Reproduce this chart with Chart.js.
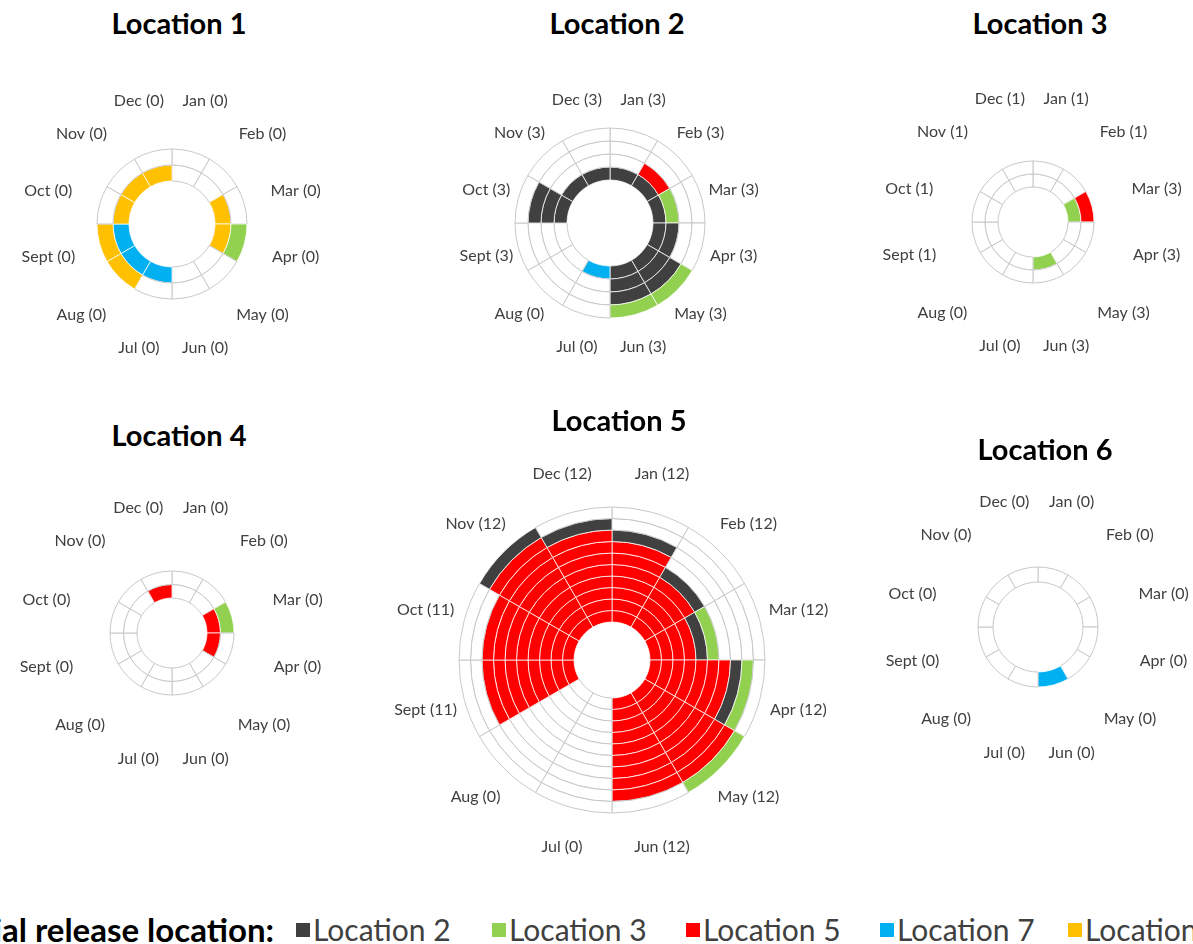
<!DOCTYPE html>
<html>
<head>
<meta charset="utf-8">
<script src="https://cdn.jsdelivr.net/npm/chart.js@4.4.1/dist/chart.umd.min.js"></script>
<style>
  html, body { margin: 0; padding: 0; background: #fff; }
  body { width: 1193px; height: 944px; position: relative; overflow: hidden; font-family: Lato, "Open Sans", sans-serif; }
  canvas { position: absolute; }
  .title { position: absolute; width: 300px; text-align: center; font-weight: bold; font-size: 29px; line-height: 34px; color: #000; }
  .leg { position: absolute; top: 912px; height: 34px; line-height: 34px; font-size: 30px; color: #404040; white-space: nowrap; }
  .box { position: absolute; top: 923px; width: 14px; height: 14px; }
</style>
</head>
<body>
<script>
const months = ["Jan", "Feb", "Mar", "Apr", "May", "Jun", "Jul", "Aug", "Sept", "Oct", "Nov", "Dec"];

// numbers shown next to the month names
const counts1 = [0, 0, 0, 0, 0, 0, 0, 0, 0, 0, 0, 0];
const counts2 = [3, 3, 3, 3, 3, 3, 0, 0, 3, 3, 3, 3];
const counts3 = [1, 1, 3, 3, 3, 3, 0, 0, 1, 1, 1, 1];
const counts4 = [0, 0, 0, 0, 0, 0, 0, 0, 0, 0, 0, 0];
const counts5 = [12, 12, 12, 12, 12, 12, 0, 0, 11, 11, 12, 12];
const counts6 = [0, 0, 0, 0, 0, 0, 0, 0, 0, 0, 0, 0];

// filled cells per month, stacked from the inside out, by initial release location
const chart1Loc7 = [0, 0, 0, 0, 0, 0, 1, 1, 1, 0, 0, 0];
const chart1Loc8 = [0, 0, 1, 1, 0, 0, 0, 1, 1, 1, 1, 1];
const chart1Loc3 = [0, 0, 0, 1, 0, 0, 0, 0, 0, 0, 0, 0];

const chart2Loc7 = [0, 0, 0, 0, 0, 0, 1, 0, 0, 0, 0, 0];
const chart2Loc2 = [1, 1, 1, 2, 3, 3, 0, 0, 0, 3, 1, 1];
const chart2Loc5 = [0, 1, 0, 0, 0, 0, 0, 0, 0, 0, 0, 0];
const chart2Loc3 = [0, 0, 1, 0, 1, 1, 0, 0, 0, 0, 0, 0];

const chart3Loc3 = [0, 0, 1, 0, 0, 1, 0, 0, 0, 0, 0, 0];
const chart3Loc5 = [0, 0, 1, 0, 0, 0, 0, 0, 0, 0, 0, 0];

const chart4Loc5 = [0, 0, 1, 1, 0, 0, 0, 0, 0, 0, 0, 1];
const chart4Loc3 = [0, 0, 1, 0, 0, 0, 0, 0, 0, 0, 0, 0];

const chart5Loc5 = [7, 5, 4, 7, 9, 9, 0, 0, 8, 8, 9, 8];
const chart5Loc2 = [1, 1, 1, 1, 0, 0, 0, 0, 0, 0, 1, 1];
const chart5Loc3 = [0, 0, 1, 1, 1, 0, 0, 0, 0, 0, 0, 0];

const chart6Loc7 = [0, 0, 0, 0, 0, 1, 0, 0, 0, 0, 0, 0];

const locColors = { L2: "#404040", L3: "#92D050", L5: "#FF0000", L7: "#00B0F0", L8: "#FFC000" };

const charts = [
    { name: "Location 1", counts: counts1, stacks: [["L7", chart1Loc7], ["L8", chart1Loc8], ["L3", chart1Loc3]],
      cx: 172, cy: 224, r: 75, hole: 43, rings: 2, labelR: 128, titleY: 23 },
    { name: "Location 2", counts: counts2, stacks: [["L7", chart2Loc7], ["L2", chart2Loc2], ["L5", chart2Loc5], ["L3", chart2Loc3]],
      cx: 610, cy: 223, r: 95, hole: 43, rings: 4, labelR: 128, titleY: 23 },
    { name: "Location 3", counts: counts3, stacks: [["L3", chart3Loc3], ["L5", chart3Loc5]],
      cx: 1033, cy: 222, r: 61, hole: 35, rings: 2, labelR: 128, titleY: 23 },
    { name: "Location 4", counts: counts4, stacks: [["L5", chart4Loc5], ["L3", chart4Loc3]],
      cx: 172, cy: 633, r: 62, hole: 35, rings: 2, labelR: 130, titleY: 435 },
    { name: "Location 5", counts: counts5, stacks: [["L5", chart5Loc5], ["L2", chart5Loc2], ["L3", chart5Loc3]],
      cx: 612, cy: 660, r: 153, hole: 38, rings: 10, labelR: 193, titleY: 420 },
    { name: "Location 6", counts: counts6, stacks: [["L7", chart6Loc7]],
      cx: 1038, cy: 627, r: 60, hole: 45, rings: 1, labelR: 130, titleY: 449 }
];

// month labels round the rings
const monthLabels = {
    id: "monthLabels",
    afterDraw(chart, args, opts) {
        const ctx = chart.ctx;
        const a = chart.chartArea;
        const cx = (a.left + a.right) / 2, cy = (a.top + a.bottom) / 2;
        ctx.save();
        ctx.font = "16px Lato, 'Open Sans', sans-serif";
        ctx.fillStyle = "#404040";
        ctx.textAlign = "center";
        ctx.textBaseline = "middle";
        months.forEach((m, i) => {
            const ang = (15 + 30 * i) * Math.PI / 180;
            ctx.fillText(m + " (" + opts.counts[i] + ")", cx + opts.r * Math.sin(ang), cy - opts.r * Math.cos(ang));
        });
        ctx.restore();
    }
};

charts.forEach(c => {
    // cell colours for each ring, inner ring first
    const cells = [];
    for (let k = 0; k < c.rings; k++) cells.push([]);
    months.forEach((m, i) => {
        const stack = [];
        c.stacks.forEach(([code, arr]) => { for (let n = 0; n < arr[i]; n++) stack.push(code); });
        for (let k = 0; k < c.rings; k++) cells[k].push(stack[k] || "");
    });
    const datasets = [];
    for (let k = c.rings - 1; k >= 0; k--) {
        datasets.push({
            data: months.map(() => 1),
            backgroundColor: cells[k].map(code => code ? locColors[code] : "#ffffff"),
            borderColor: cells[k].map(code => code ? "rgba(255,255,255,0.75)" : "#c8c8c8"),
            borderWidth: 1
        });
    }

    const size = c.labelR > 150 ? 480 : 360;
    const cv = document.createElement("canvas");
    cv.width = size; cv.height = size;
    cv.style.width = size + "px"; cv.style.height = size + "px";
    cv.style.left = (c.cx - size / 2) + "px";
    cv.style.top = (c.cy - size / 2) + "px";
    document.body.appendChild(cv);

    new Chart(cv, {
        type: "doughnut",
        data: { labels: months, datasets: datasets },
        options: {
            responsive: false,
            animation: false,
            radius: c.r,
            cutout: (c.hole / c.r * 100) + "%",
            layout: { padding: 0 },
            plugins: {
                legend: { display: false },
                tooltip: { enabled: false },
                monthLabels: { counts: c.counts, r: c.labelR }
            }
        },
        plugins: [monthLabels]
    });

    const t = document.createElement("div");
    t.className = "title";
    t.textContent = c.name;
    t.style.left = (c.cx + 7 - 150) + "px";
    t.style.top = (c.titleY - 17) + "px";
    document.body.appendChild(t);
});

// legend row along the bottom
const legendItems = [["L2", "Location 2", 296], ["L3", "Location 3", 492], ["L5", "Location 5", 686], ["L7", "Location 7", 880], ["L8", "Location 8", 1068]];
const head = document.createElement("div");
head.className = "leg";
head.style.color = "#000";
head.style.fontWeight = "bold";
head.style.fontSize = "33px";
head.style.right = (1193 - 274) + "px";
head.textContent = "Initial release location:";
document.body.appendChild(head);
legendItems.forEach(([code, text, x]) => {
    const b = document.createElement("div");
    b.className = "box";
    b.style.left = x + "px";
    b.style.background = locColors[code];
    document.body.appendChild(b);
    const s = document.createElement("div");
    s.className = "leg";
    s.style.left = (x + 17) + "px";
    s.textContent = text;
    document.body.appendChild(s);
});
</script>
</body>
</html>
